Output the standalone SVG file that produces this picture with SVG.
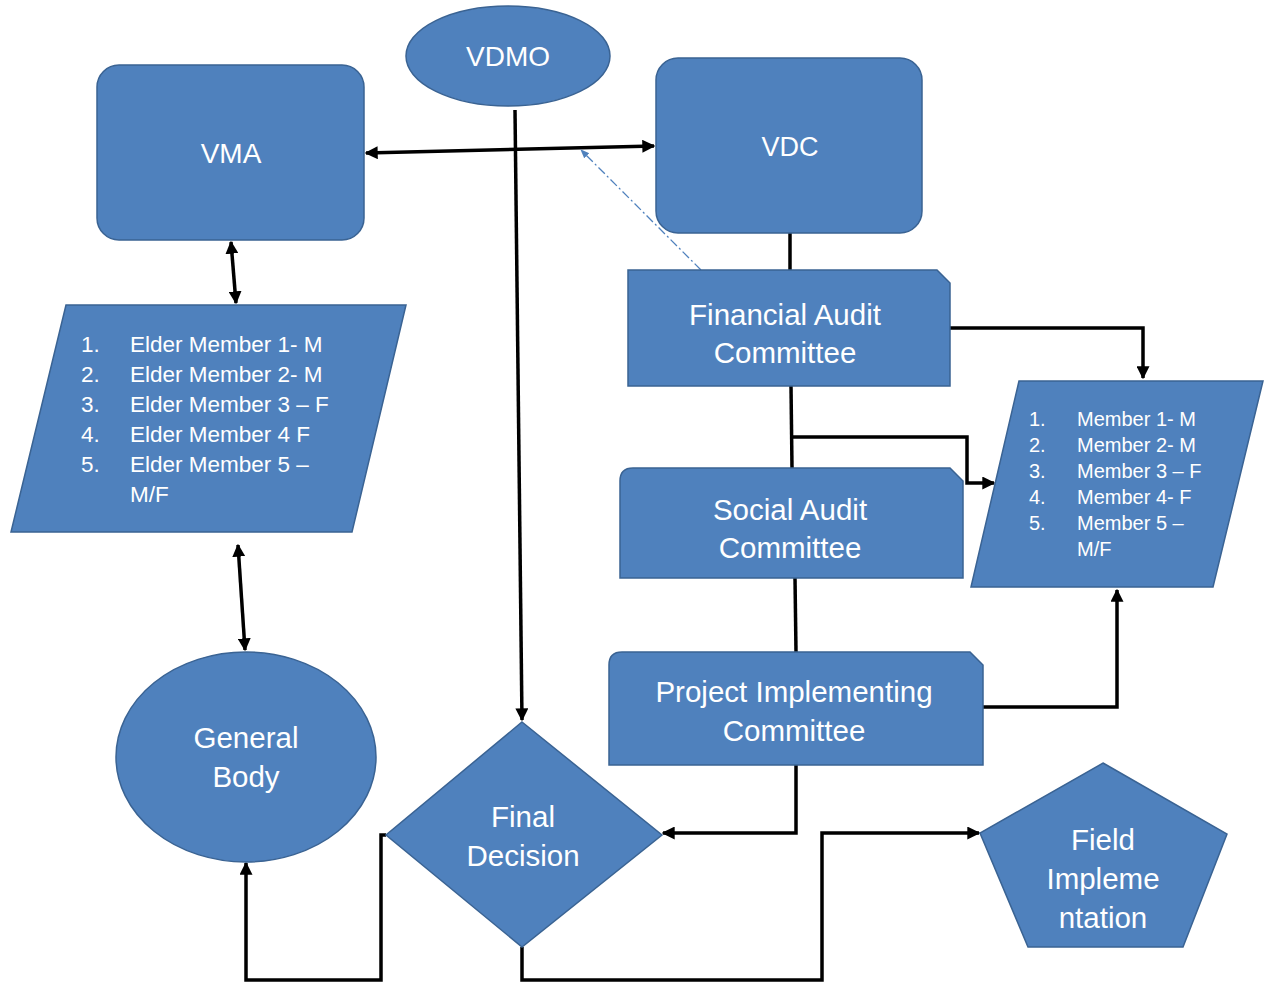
<svg xmlns="http://www.w3.org/2000/svg" width="1264" height="984" viewBox="0 0 1264 984">
<defs>
<style>
.shape{fill:#4F81BD;stroke:#3A6393;stroke-width:1.5}
.lbl{font-family:"Liberation Sans",Arial,sans-serif;fill:#FFFFFF;text-anchor:middle}
.big{font-size:29.5px}
.list{font-family:"Liberation Sans",Arial,sans-serif;fill:#FFFFFF}
.conn{fill:none;stroke:#000000;stroke-width:3.5}
.thin{fill:none;stroke:#4F81BD;stroke-width:1.3;stroke-dasharray:9 3 2 3}
</style>
<marker id="ah" viewBox="0 0 10 10" refX="9" refY="5" markerWidth="13" markerHeight="13" markerUnits="userSpaceOnUse" orient="auto-start-reverse">
<path d="M0,0 L10,5 L0,10 Z" fill="#000"/>
</marker>
<marker id="ahb" viewBox="0 0 10 10" refX="9" refY="5" markerWidth="9" markerHeight="9" markerUnits="userSpaceOnUse" orient="auto">
<path d="M0,1 L10,5 L0,9 Z" fill="#4F81BD"/>
</marker>
</defs>
<rect width="1264" height="984" fill="#FFFFFF"/>

<g id="connectors">
<path class="conn" d="M366,153 L654,146" marker-start="url(#ah)" marker-end="url(#ah)"/>
<path class="conn" d="M515,110 L522,720" marker-end="url(#ah)"/>
<path class="thin" d="M701,270 L581,150" marker-end="url(#ahb)"/>
<path class="conn" d="M790,233 L790,270"/>
<path class="conn" d="M231,242 L236,303" marker-start="url(#ah)" marker-end="url(#ah)"/>
<path class="conn" d="M238,545 L245,650" marker-start="url(#ah)" marker-end="url(#ah)"/>
<path class="conn" d="M950,328 H1143 V378" marker-end="url(#ah)"/>
<path class="conn" d="M791,386 L792,468"/>
<path class="conn" d="M792,437 H967 V483 H994" marker-end="url(#ah)"/>
<path class="conn" d="M795,578 L796,652"/>
<path class="conn" d="M983,707 H1117 V590" marker-end="url(#ah)"/>
<path class="conn" d="M796,765 V833 H663" marker-end="url(#ah)"/>
<path class="conn" d="M522,947 V980 H822 V833 H979" marker-end="url(#ah)"/>
<path class="conn" d="M386,835 H381 V980 H246 V863" marker-end="url(#ah)"/>
</g>

<g id="vdmo">
<ellipse class="shape" cx="508" cy="56" rx="102" ry="50"/>
<text class="lbl" x="508" y="66" font-size="28">VDMO</text>
</g>

<g id="vma">
<rect class="shape" x="97" y="65" width="267" height="175" rx="22"/>
<text class="lbl" x="231" y="163" font-size="28">VMA</text>
</g>

<g id="vdc">
<rect class="shape" x="656" y="58" width="266" height="175" rx="22"/>
<text class="lbl" x="790" y="156" font-size="27">VDC</text>
</g>

<g id="elder-list">
<polygon class="shape" points="66,305 406,305 352,532 11,532"/>
<g class="list" font-size="22.5">
<text x="81" y="352">1.</text><text x="130" y="352">Elder Member 1- M</text>
<text x="81" y="382">2.</text><text x="130" y="382">Elder Member 2- M</text>
<text x="81" y="412">3.</text><text x="130" y="412">Elder Member 3 – F</text>
<text x="81" y="442">4.</text><text x="130" y="442">Elder Member 4  F</text>
<text x="81" y="472">5.</text><text x="130" y="472">Elder Member 5 –</text>
<text x="130" y="502">M/F</text>
</g>
</g>

<g id="general-body">
<ellipse class="shape" cx="246" cy="757" rx="130" ry="105"/>
<text class="lbl big" x="246" y="748">General</text>
<text class="lbl big" x="246" y="787">Body</text>
</g>

<g id="financial-audit">
<path class="shape" d="M628,270 H937 L950,283 V386 H628 Z"/>
<text class="lbl big" x="785" y="325">Financial Audit</text>
<text class="lbl big" x="785" y="363">Committee</text>
</g>

<g id="social-audit">
<path class="shape" d="M633,468 H950 L963,481 V578 H620 V481 Q620,468 633,468 Z"/>
<text class="lbl big" x="790" y="520">Social Audit</text>
<text class="lbl big" x="790" y="558">Committee</text>
</g>

<g id="project-implementing">
<path class="shape" d="M622,652 H970 L983,665 V765 H609 V665 Q609,652 622,652 Z"/>
<text class="lbl big" x="794" y="702">Project Implementing</text>
<text class="lbl big" x="794" y="741">Committee</text>
</g>

<g id="member-list">
<polygon class="shape" points="1019,381 1263,381 1213,587 971,587"/>
<g class="list" font-size="20">
<text x="1029" y="426">1.</text><text x="1077" y="426">Member 1- M</text>
<text x="1029" y="452">2.</text><text x="1077" y="452">Member 2- M</text>
<text x="1029" y="478">3.</text><text x="1077" y="478">Member 3 – F</text>
<text x="1029" y="504">4.</text><text x="1077" y="504">Member 4- F</text>
<text x="1029" y="530">5.</text><text x="1077" y="530">Member 5 –</text>
<text x="1077" y="556">M/F</text>
</g>
</g>

<g id="final-decision">
<polygon class="shape" points="522,722 662,835 522,947 386,835"/>
<text class="lbl big" x="523" y="827">Final</text>
<text class="lbl big" x="523" y="866">Decision</text>
</g>

<g id="field-implementation">
<polygon class="shape" points="1103,763 1227,834 1183,947 1028,947 980,833"/>
<text class="lbl big" x="1103" y="850">Field</text>
<text class="lbl big" x="1103" y="889">Impleme</text>
<text class="lbl big" x="1103" y="928">ntation</text>
</g>
</svg>
